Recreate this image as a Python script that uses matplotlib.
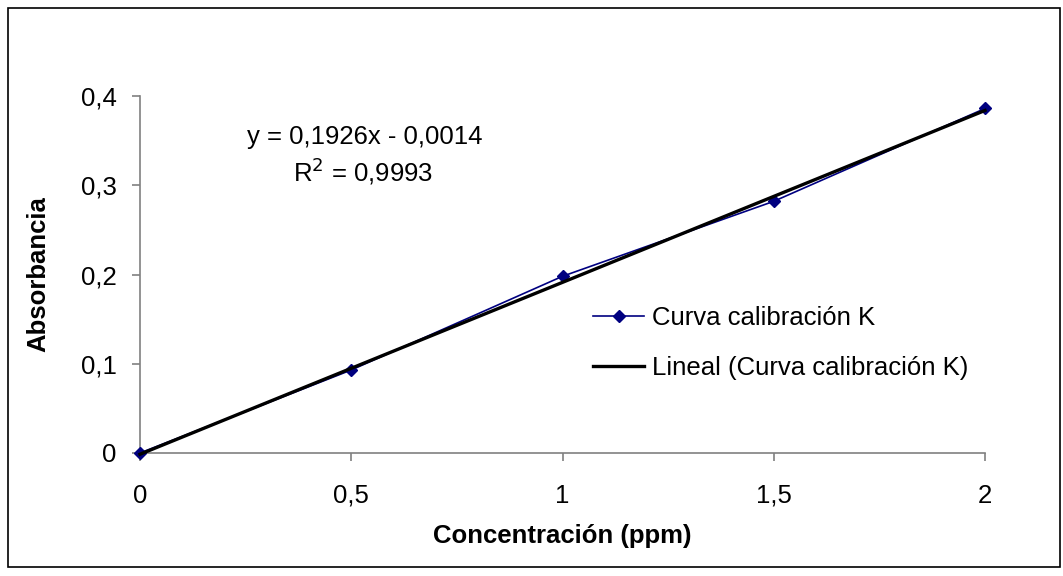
import matplotlib
matplotlib.use("Agg")
import matplotlib.pyplot as plt
from matplotlib.patches import Rectangle
import numpy as np

plt.rcParams['font.family'] = ['Liberation Sans', 'DejaVu Sans']

conc = [0, 0.5, 1, 1.5, 2]
absorb = [0.0, 0.093, 0.198, 0.282, 0.386]
slope = 0.1926
intercept = -0.0014
xticks = [0, 0.5, 1, 1.5, 2]
xticklabels = ['0', '0,5', '1', '1,5', '2']
yticks = [0, 0.1, 0.2, 0.3, 0.4]
yticklabels = ['0', '0,1', '0,2', '0,3', '0,4']

W, H = 1063, 576
FS = 18.5
fig = plt.figure(figsize=(W / 100, H / 100), dpi=100)
fig.patches.append(Rectangle((8 / W, 9 / H), 1052 / W, 559 / H, transform=fig.transFigure,
                             fill=False, edgecolor='black', linewidth=1.2))

ax = fig.add_axes([140 / W, 1 - 453 / H, 845 / W, 357 / H])
ax.set_xlim(0, 2)
ax.set_ylim(0, 0.4)

xs = np.array([conc[0], conc[-1]])
ax.plot(conc, absorb, color='#000080', linewidth=1.2, marker='D', markersize=6.5,
        label='Curva calibración K', zorder=3, clip_on=False)
ax.plot(xs, slope * xs + intercept, color='black', linewidth=2.4,
        label='Lineal (Curva calibración K)', zorder=4, clip_on=False)

for s in ['top', 'right']:
    ax.spines[s].set_visible(False)
for s in ['left', 'bottom']:
    ax.spines[s].set_color('#808080')
    ax.spines[s].set_linewidth(1.2)

ax.set_xticks(xticks)
ax.set_xticklabels(xticklabels)
ax.set_yticks(yticks)
ax.set_yticklabels(yticklabels)
ax.tick_params(axis='both', direction='out', length=6, width=1.2, color='#808080',
               labelsize=FS, labelcolor='black')
ax.tick_params(axis='x', pad=16)
ax.tick_params(axis='y', pad=11)

ax.set_xlabel('Concentración (ppm)', fontsize=FS, fontweight='bold', labelpad=12)
ax.set_ylabel('Absorbancia', fontsize=FS, fontweight='bold', labelpad=22)

ax.text(0.532, 0.354, 'y = 0,1926x - 0,0014', fontsize=FS, ha='center', va='center')
ax.text(0.528, 0.316, 'R$^2$ = 0,9993', fontsize=FS, ha='center', va='center')

ax.legend(loc='upper left', bbox_to_anchor=((593 - 140) / 845, (453 - 306) / 357), frameon=False,
          fontsize=FS, handlelength=2.0, labelspacing=1.0, handletextpad=0.3,
          borderpad=0, borderaxespad=0)

fig.savefig('out.png', dpi=100)
